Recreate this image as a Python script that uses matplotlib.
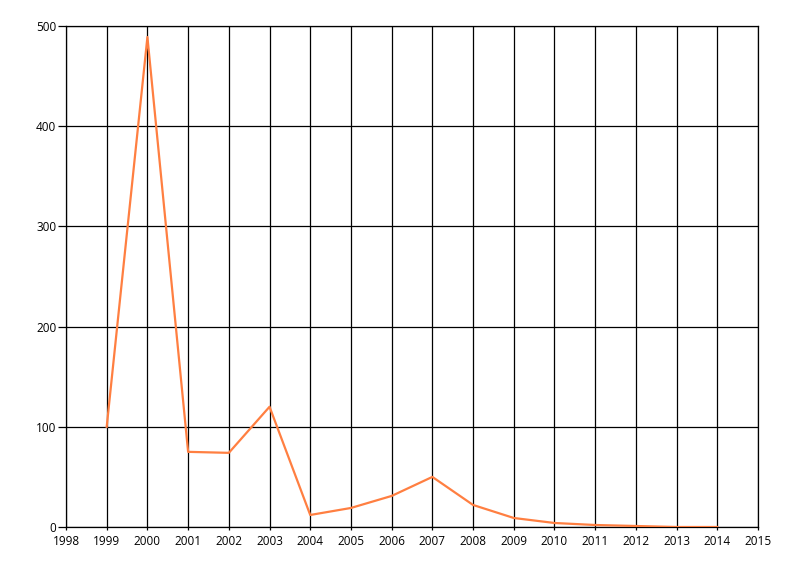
import matplotlib
matplotlib.use("Agg")
import matplotlib.pyplot as plt

years = [1999, 2000, 2001, 2002, 2003, 2004, 2005, 2006, 2007, 2008, 2009, 2010, 2011, 2012, 2013, 2014]
values = [100, 489, 75, 74, 120, 12, 19, 31, 50, 22, 9, 4, 2, 1, 0, 0]
xticks = list(range(1998, 2016))
yticks = [0, 100, 200, 300, 400, 500]

fig = plt.figure(figsize=(8, 5.76), dpi=100)
ax = fig.add_axes([66/800, 1-527/576, (758-66)/800, (527-26)/576])
ax.plot(years, values, color='#FF7F41', linewidth=1.6, zorder=3)
ax.set_xlim(1998, 2015)
ax.set_ylim(0, 500)
ax.set_xticks(xticks)
ax.set_xticklabels([str(t) for t in xticks])
ax.set_yticks(yticks)
ax.grid(True, color='black', linewidth=0.9)
for s in ax.spines.values():
    s.set_color('black')
    s.set_linewidth(0.9)
ax.tick_params(axis='y', length=6, width=0.9, labelsize=8.5, pad=1, colors='black')
ax.tick_params(axis='x', length=2, width=0.9, labelsize=8.5, pad=3.5, colors='black')
for lab in ax.get_xticklabels() + ax.get_yticklabels():
    lab.set_family('Open Sans')
fig.savefig('out.png', dpi=100)
